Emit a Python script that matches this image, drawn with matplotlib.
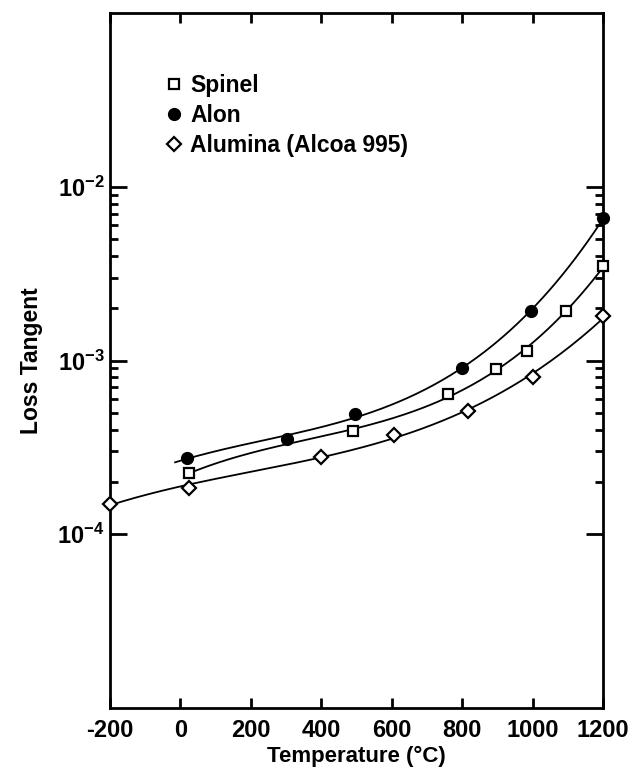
# Loss tangent vs temperature for spinel, alon and alumina
import numpy as np
import matplotlib
matplotlib.use("Agg")
import matplotlib.pyplot as plt
from matplotlib.ticker import FixedLocator, FuncFormatter, NullFormatter

plt.rcParams['font.family'] = ['Liberation Sans', 'DejaVu Sans']
plt.rcParams['font.weight'] = 'bold'
plt.rcParams['mathtext.fontset'] = 'custom'
plt.rcParams['mathtext.rm'] = 'Liberation Sans:bold'
plt.rcParams['mathtext.bf'] = 'Liberation Sans:bold'

# -----------------------------
# Data
# -----------------------------
spinel_t = [25, 490, 760, 895, 985, 1095, 1200]
spinel_tan = [2.25e-4, 3.95e-4, 6.4e-4, 8.9e-4, 1.14e-3, 1.92e-3, 3.5e-3]

alon_t = [20, 303, 497, 800, 995, 1200]
alon_tan = [2.75e-4, 3.55e-4, 4.95e-4, 9.0e-4, 1.92e-3, 6.6e-3]

alumina_t = [-200, 25, 400, 605, 815, 1000, 1200]
alumina_tan = [1.5e-4, 1.85e-4, 2.8e-4, 3.75e-4, 5.15e-4, 8.0e-4, 1.8e-3]

x_ticks = [-200, 0, 200, 400, 600, 800, 1000, 1200]
y_major = [1e-4, 1e-3, 1e-2]


def fit_curve(t, tan, t_start, deg=3):
    # smooth fit in log space, like the hand-drawn curves
    coef = np.polyfit(t, np.log10(tan), deg)
    xs = np.linspace(t_start, max(t), 200)
    return xs, 10 ** np.polyval(coef, xs)


fig = plt.figure(figsize=(6.43, 7.72), dpi=100)
ax = fig.add_axes([0.171, 0.083, 0.767, 0.9])

# fitted curves
for t, tan, t0 in [(alon_t, alon_tan, -15), (spinel_t, spinel_tan, 25),
                   (alumina_t, alumina_tan, -200)]:
    xs, ys = fit_curve(t, tan, t0)
    ax.plot(xs, ys, color='black', lw=1.3, zorder=2)

ax.plot(spinel_t, spinel_tan, ls='none', marker='s', ms=7.5, mfc='white',
        mec='black', mew=1.6, zorder=3, clip_on=False, label='Spinel')
ax.plot(alon_t, alon_tan, ls='none', marker='o', ms=8.5, mfc='black',
        mec='black', zorder=3, clip_on=False, label='Alon')
ax.plot(alumina_t, alumina_tan, ls='none', marker='D', ms=7, mfc='white',
        mec='black', mew=1.6, zorder=3, clip_on=False,
        label='Alumina (Alcoa 995)')

ax.set_yscale('log')
ax.set_xlim(-200, 1200)
ax.set_ylim(1e-5, 1e-1)

ax.set_xticks(x_ticks)
ax.set_xticklabels([str(v) for v in x_ticks])
ax.yaxis.set_major_locator(FixedLocator(y_major))
ax.yaxis.set_major_formatter(FuncFormatter(
    lambda v, p: r'$\mathbf{10^{%d}}$' % int(round(np.log10(v)))))
minors = [k * 10.0 ** e for e in (-4, -3) for k in range(2, 10)]
ax.yaxis.set_minor_locator(FixedLocator(minors))
ax.yaxis.set_minor_formatter(NullFormatter())

ax.tick_params(axis='both', which='both', direction='in', top=True, right=True,
               labelsize=17, width=2)
ax.tick_params(axis='y', which='major', length=12, pad=4)
ax.tick_params(axis='y', which='minor', length=6)
ax.tick_params(axis='x', which='major', length=7, pad=8)
for s in ax.spines.values():
    s.set_linewidth(2.0)

ax.set_xlabel('Temperature (°C)', fontsize=16, fontweight='bold', labelpad=3)
ax.set_ylabel('Loss Tangent', fontsize=16.5, fontweight='bold', labelpad=10)

leg = ax.legend(loc='upper left', bbox_to_anchor=(0.098, 0.925), frameon=False,
                fontsize=16.5, handlelength=0.6, handletextpad=0.4,
                labelspacing=0.3, borderaxespad=0)

fig.savefig('out.png', dpi=100)
